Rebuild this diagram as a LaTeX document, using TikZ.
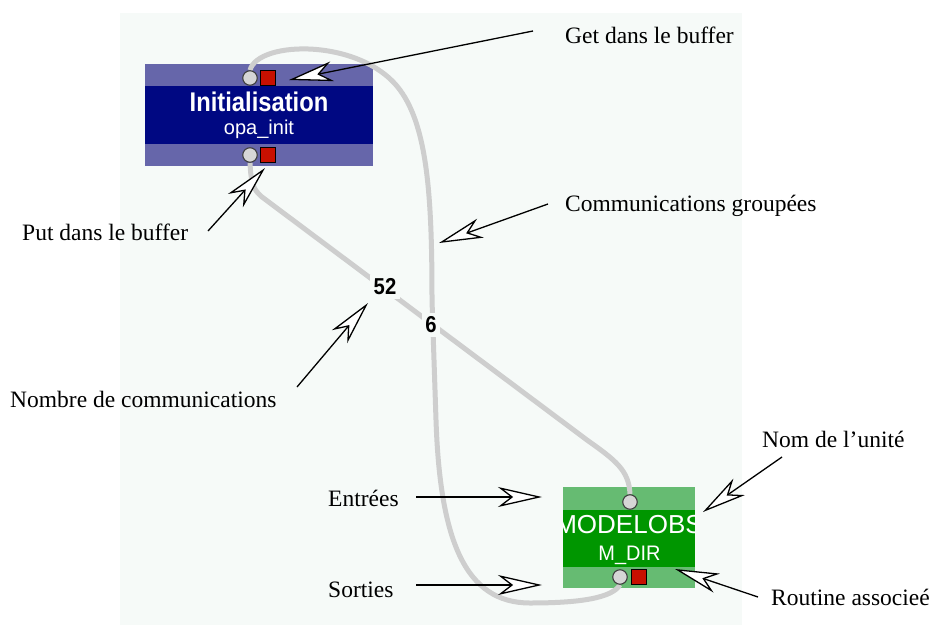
\documentclass[tikz,border=0pt]{standalone}
\usepackage{fontspec}
\setmainfont{Liberation Serif}
\newfontfamily\boxfont{Liberation Sans}
\newfontfamily\condbold[FakeStretch=0.88]{Liberation Sans Bold}
\newfontfamily\condreg[FakeStretch=0.95]{Liberation Sans}
\usetikzlibrary{arrows.meta}
\definecolor{panelbg}{RGB}{246,250,248}
\definecolor{initlight}{RGB}{102,102,170}
\definecolor{initdark}{RGB}{0,8,130}
\definecolor{modlight}{RGB}{102,187,114}
\definecolor{moddark}{RGB}{0,150,0}
\definecolor{linkgray}{RGB}{206,206,206}
\definecolor{portred}{RGB}{200,16,0}
\definecolor{portgray}{RGB}{214,214,214}
\pgfdeclarelayer{background}
\pgfdeclarelayer{links}
\pgfsetlayers{background,links,main}
\begin{document}
\begin{tikzpicture}[x=1pt,y=-1pt,
  band/.style={rectangle, inner sep=0pt, outer sep=0pt, draw=none},
  inport/.style={circle, draw=black!75, fill=portgray, line width=1.1pt, minimum size=14.5pt, inner sep=0pt},
  outport/.style={rectangle, draw=black, fill=portred, line width=1.1pt, minimum size=15pt, inner sep=0pt},
  link/.style={draw=linkgray, line width=5pt},
  count/.style={font=\condbold\fontsize{23}{23}\selectfont, fill=panelbg, inner sep=3.5pt},
  boxtitle/.style={text=white, inner sep=0pt, anchor=base},
  note/.style={font=\fontsize{23.5}{23.5}\selectfont, anchor=base west, inner sep=0pt},
  pointer/.style={draw=black, line width=1.3pt, -{Stealth[length=44pt,width=20pt,inset=13pt,fill=white]}}]
\useasboundingbox (0,0) rectangle (932,627);
\begin{pgfonlayer}{background}
\fill[white] (0,0) rectangle (932,627);
\fill[panelbg] (120,13) rectangle (742,625);
\node[band, fill=initlight, minimum width=228pt, minimum height=102pt] (init) at (259,115) {};
\node[band, fill=initdark, minimum width=228pt, minimum height=58pt] (initcore) at (259,115) {};
\node[band, fill=modlight, minimum width=132pt, minimum height=101pt] (mod) at (629,537.5) {};
\node[band, fill=moddark, minimum width=132pt, minimum height=57pt] (modcore) at (629,538.5) {};
\end{pgfonlayer}
% ports
\node[inport] (initTopC) at (250,78) {};
\node[outport] (initTopS) at (268,78) {};
\node[inport] (initBotC) at (250,155) {};
\node[outport] (initBotS) at (268,155) {};
\node[inport] (modTopC) at (630,502) {};
\node[inport] (modBotC) at (620,577) {};
\node[outport] (modBotS) at (639,577) {};
% links
\begin{pgfonlayer}{links}
\draw[link] (initTopC.north) .. controls (258,40) and (362,38) .. (400,90)
  .. controls (428,128) and (432,200) .. (432,300) -- (436,420)
  .. controls (440,540) and (465,603) .. (530,603)
  .. controls (580,603) and (612,598) .. (modBotC.south);
\draw[link] (initBotC.south) .. controls (251,185) and (254,190) .. (262,197)
  -- (587,440) .. controls (615,460) and (629,470) .. (modTopC.north);
\end{pgfonlayer}
% box texts
\node[boxtitle, font=\condbold\fontsize{27}{27}\selectfont] (initname) at (259,111) {Initialisation};
\node[boxtitle, font=\boxfont\fontsize{20}{20}\selectfont] (initrout) at (259,134) {opa\_init};
\begin{scope}
\clip (563,487) rectangle (695,588);
\node[boxtitle, font=\boxfont\fontsize{26}{26}\selectfont] (modname) at (629,533) {MODELOBS};
\end{scope}
\node[boxtitle, font=\condreg\fontsize{21}{21}\selectfont] (modrout) at (629.5,560) {M\_DIR};
% counts
\node[count] (c52) at (385,287) {52};
\node[count] (c6) at (431,325) {6};
% annotation labels
\node[note] (lget) at (565,43) {Get dans le buffer};
\node[note] (lcomm) at (565,211) {Communications groupées};
\node[note] (lput) at (22,240) {Put dans le buffer};
\node[note] (lnb) at (10,407) {Nombre de communications};
\node[note] (lnom) at (762,447) {Nom de l’unité};
\node[note] (lin) at (328,506) {Entrées};
\node[note] (lout) at (328,597) {Sorties};
\node[note] (lrout) at (771,605) {Routine associeé};
% pointer ends
\coordinate (getT) at (533,31);   \coordinate (getH) at (289,80);
\coordinate (comT) at (548,204);  \coordinate (comH) at (439,243);
\coordinate (putT) at (208,231);  \coordinate (putH) at (265,168);
\coordinate (nbT) at (297,387);   \coordinate (nbH) at (368,303);
\coordinate (nomT) at (782,457);  \coordinate (nomH) at (703,512);
\coordinate (inT) at (416,497);   \coordinate (inH) at (542,497);
\coordinate (outT) at (416,585);  \coordinate (outH) at (542,585);
\coordinate (rtT) at (758,597);   \coordinate (rtH) at (675,569);
\draw[pointer] (getT) -- (getH);
\draw[pointer] (comT) -- (comH);
\draw[pointer] (putT) -- (putH);
\draw[pointer] (nbT) -- (nbH);
\draw[pointer] (nomT) -- (nomH);
\draw[pointer] (inT) -- (inH);
\draw[pointer] (outT) -- (outH);
\draw[pointer] (rtT) -- (rtH);
\end{tikzpicture}
\end{document}
